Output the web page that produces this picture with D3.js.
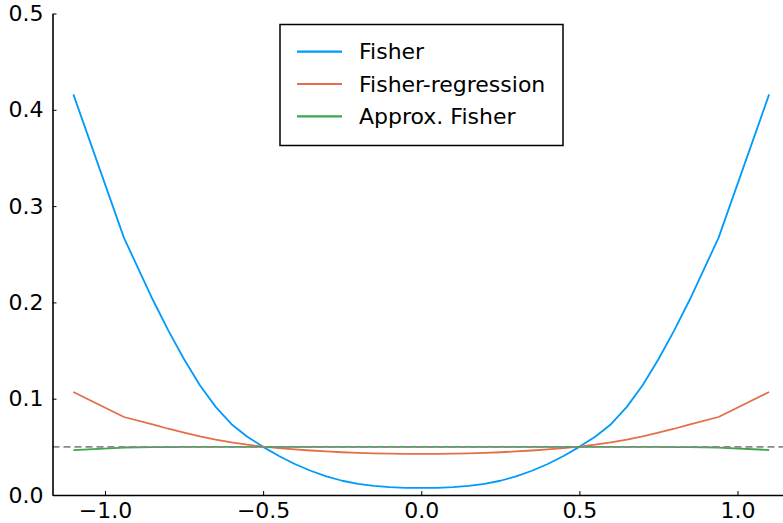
<!DOCTYPE html>
<html>
<head>
<meta charset="utf-8">
<script src="https://cdn.jsdelivr.net/npm/d3@7"></script>
<style>
  body { margin: 0; background: #fff; }
  svg { display: block; font-family: "DejaVu Sans", sans-serif; }
</style>
</head>
<body>
<svg id="chart" width="783" height="523"></svg>
<script>
// x grid of the three curves
const xs = [-1.1, -0.94, -0.85, -0.8, -0.75, -0.7, -0.65, -0.6, -0.55, -0.5, -0.45, -0.4, -0.35, -0.3,
            -0.25, -0.2, -0.15, -0.1, -0.05, 0,
            0.05, 0.1, 0.15, 0.2, 0.25, 0.3, 0.35, 0.4, 0.45, 0.5, 0.55, 0.6, 0.65, 0.7, 0.75, 0.8,
            0.85, 0.94, 1.1];

const fisher = [0.416, 0.267, 0.2035, 0.171, 0.141, 0.114, 0.0915, 0.0735, 0.0605, 0.050, 0.0405, 0.0322,
                0.0252, 0.0193, 0.0148, 0.0116, 0.0094, 0.0081, 0.0075, 0.0073,
                0.0075, 0.0081, 0.0094, 0.0116, 0.0148, 0.0193, 0.0252, 0.0322, 0.0405, 0.050, 0.0605,
                0.0735, 0.0915, 0.114, 0.141, 0.171, 0.2035, 0.267, 0.416];
const fisherReg = [0.107, 0.081, 0.0733, 0.0688, 0.0647, 0.0609, 0.0576, 0.0547, 0.0522, 0.0502, 0.0487,
                   0.0474, 0.0462, 0.0452, 0.0444, 0.0438, 0.0433, 0.0430, 0.0428, 0.0428,
                   0.0428, 0.0430, 0.0433, 0.0438, 0.0444, 0.0452, 0.0462, 0.0474, 0.0487, 0.0502, 0.0522,
                   0.0547, 0.0576, 0.0609, 0.0647, 0.0688, 0.0733, 0.081, 0.107];
const approxFisher = [0.0467, 0.0493, 0.0497, 0.0498, 0.0499, 0.0499, 0.05, 0.05, 0.05, 0.05, 0.05,
                      0.05, 0.05, 0.05, 0.05, 0.05, 0.05, 0.05, 0.05, 0.05,
                      0.05, 0.05, 0.05, 0.05, 0.05, 0.05, 0.05, 0.05, 0.05, 0.05, 0.05,
                      0.05, 0.05, 0.0499, 0.0499, 0.0498, 0.0497, 0.0493, 0.0467];
const refLevel = 0.05;

const seriesNames = ["Fisher", "Fisher-regression", "Approx. Fisher"];
const seriesColors = ["#009afa", "#e36f47", "#3ea44e"];
const xTicks = [-1.0, -0.5, 0.0, 0.5, 1.0];
const yTicks = [0.0, 0.1, 0.2, 0.3, 0.4, 0.5];

const svg = d3.select('#chart');

const x = d3.scaleLinear().domain([-1.166, 1.166]).range([52.5, 790]);
const y = d3.scaleLinear().domain([0, 0.5]).range([495, 13.5]);

const fmt = d => (d < 0 ? "\u2212" : "") + Math.abs(d).toFixed(1);

// curves
const line = d3.line().x(d => x(d[0])).y(d => y(d[1]));
[fisher, fisherReg, approxFisher].forEach((vals, i) => {
    svg.append('path')
        .datum(xs.map((v, j) => [v, vals[j]]))
        .attr('d', line)
        .style('fill', 'none')
        .style('stroke', seriesColors[i])
        .style('stroke-width', 1.8)
        .style('stroke-linejoin', 'round');
});

// dashed reference line
svg.append('line')
    .attr('x1', x.range()[0]).attr('x2', 783)
    .attr('y1', y(refLevel)).attr('y2', y(refLevel))
    .style('stroke', '#888')
    .style('stroke-width', 1.8)
    .style('stroke-dasharray', '7,4');

// axes
const xAxis = svg.append('g')
    .attr('transform', `translate(0,${y(0)})`)
    .call(d3.axisBottom(x).tickValues(xTicks).tickFormat(fmt).tickSizeInner(-4).tickSizeOuter(0).tickPadding(8));
const yAxis = svg.append('g')
    .attr('transform', `translate(${x.range()[0]},0)`)
    .call(d3.axisLeft(y).tickValues(yTicks).tickFormat(d => d.toFixed(1)).tickSizeInner(-4).tickSizeOuter(0).tickPadding(9));

[xAxis, yAxis].forEach(g => {
    g.select('.domain').style('stroke', '#000').style('stroke-width', 1.6);
    g.selectAll('.tick line').style('stroke', '#000').style('stroke-width', 1);
    g.selectAll('.tick text').style('font-size', '22px').style('fill', '#000')
        .style('font-family', '"DejaVu Sans", sans-serif');
});
xAxis.selectAll('.tick text').attr('dy', '0.7em');

// legend
const legend = svg.append('g');
legend.append('rect')
    .attr('x', 280).attr('y', 24.5)
    .attr('width', 283).attr('height', 121)
    .style('fill', '#fff')
    .style('stroke', '#000')
    .style('stroke-width', 1.5);

seriesNames.forEach((name, i) => {
    const ly = 51.7 + i * 32.3;
    legend.append('line')
        .attr('x1', 297).attr('x2', 342)
        .attr('y1', ly).attr('y2', ly)
        .style('stroke', seriesColors[i])
        .style('stroke-width', 2.2);
    legend.append('text')
        .attr('x', 359).attr('y', ly)
        .attr('dy', '0.35em')
        .style('font-size', '22px')
        .style('fill', '#000')
        .text(name);
});
</script>
</body>
</html>
